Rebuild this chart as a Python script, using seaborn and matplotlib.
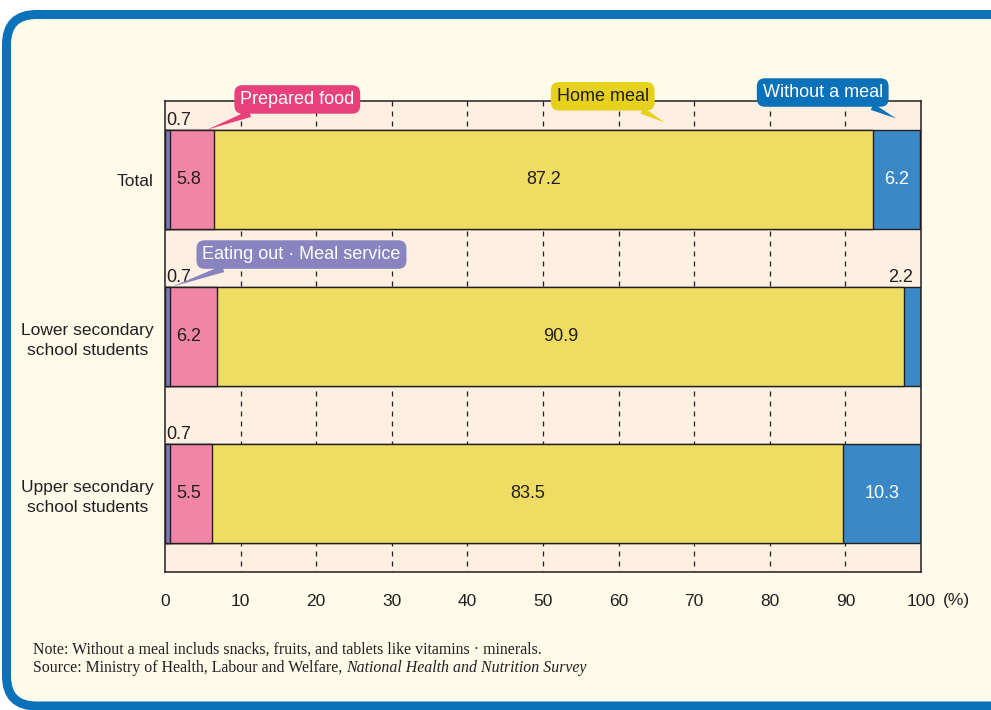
import matplotlib
matplotlib.use("Agg")
import matplotlib.pyplot as plt
import seaborn as sns
import pandas as pd
from matplotlib.patches import FancyBboxPatch

# ---- data -------------------------------------------------------------
groups = ["Total", "Lower secondary\nschool students", "Upper secondary\nschool students"]
eating_out = [0.7, 0.7, 0.7]
prepared = [5.8, 6.2, 5.5]
home_meal = [87.2, 90.9, 83.5]
without_meal = [6.2, 2.2, 10.3]
x_ticks = [0, 10, 20, 30, 40, 50, 60, 70, 80, 90, 100]

series_names = ["Eating out · Meal service", "Prepared food", "Home meal", "Without a meal"]

# ---- styling ----------------------------------------------------------
bar_colors = ["#7b79b8", "#f185a6", "#eedd62", "#3b88c7"]
callout_colors = ["#8784c0", "#e8407b", "#e6d21e", "#0b72ba"]
callout_text_colors = ["white", "white", "#231f20", "white"]
INK = "#231f20"
PANEL = "#fffbea"
PLOT_BG = "#fdf0e2"
FRAME = "#0b72ba"
LABEL_SIZE = 12.5
VALUE_SIZE = 13
CALLOUT_SIZE = 13

sns.set_theme(style="white")
plt.rcParams["font.family"] = ["Liberation Sans", "DejaVu Sans"]
plt.rcParams["text.color"] = INK

W, H = 991, 710
fig = plt.figure(figsize=(W / 100, H / 100), dpi=100, facecolor="white")

# background layer in pixel units: rounded blue frame + notes
bg = fig.add_axes([0, 0, 1, 1], zorder=0)
bg.set_xlim(0, W)
bg.set_ylim(H, 0)
bg.axis("off")
bg.add_patch(FancyBboxPatch((6.5, 14.5), 1100, 691.5,
                            boxstyle="round,pad=0,rounding_size=30",
                            fc=PANEL, ec=FRAME, lw=6.5))

ax = fig.add_axes([165 / W, 1 - 572 / H, 756 / W, 471 / H], zorder=1)
ax.set_facecolor(PLOT_BG)

df = pd.DataFrame({
    "group": groups,
    "eating_out": eating_out,
    "prepared": prepared,
    "home_meal": home_meal,
    "without_meal": without_meal,
})
cols = ["eating_out", "prepared", "home_meal", "without_meal"]
cum = df[cols].cumsum(axis=1)
start = cum - df[cols]

# dashed guides behind the bars
ax.vlines(x_ticks[1:-1], -0.5, 2.5, colors=INK, linestyles=(0, (4, 4)), lw=0.9, zorder=0.5)

# stacked bars: draw cumulative totals from the outermost segment inward
for k in reversed(range(len(cols))):
    sns.barplot(data=cum.assign(group=df["group"]), x=cols[k], y="group", orient="h",
                color=bar_colors[k], saturation=1, width=0.63, errorbar=None,
                edgecolor=INK, linewidth=1.0, ax=ax)

ax.set_xlim(0, 100)
ax.set_ylim(2.5, -0.5)
ax.set_xlabel("")
ax.set_ylabel("")
ax.set_xticks(x_ticks, labels=[str(t) for t in x_ticks])
ax.set_yticks(range(len(groups)), labels=groups, multialignment="center", linespacing=1.45)
ax.tick_params(axis="x", length=0, pad=16, labelsize=LABEL_SIZE, labelcolor=INK)
ax.tick_params(axis="y", length=0, pad=8, labelsize=LABEL_SIZE, labelcolor=INK)
for sp in ax.spines.values():
    sp.set_visible(True)
    sp.set_color(INK)
    sp.set_linewidth(1.1)

half = 0.315
for i in range(len(groups)):
    # eating out: tiny segment, value written above the bar
    ax.text(0.1, i - half - 0.03, f"{eating_out[i]}", ha="left", va="baseline", fontsize=VALUE_SIZE)
    # prepared food
    ax.text(start.loc[i, "prepared"] + 0.75, i, f"{prepared[i]}", ha="left", va="center",
            fontsize=VALUE_SIZE)
    # home meal
    ax.text(start.loc[i, "home_meal"] + home_meal[i] / 2, i, f"{home_meal[i]}",
            ha="center", va="center", fontsize=VALUE_SIZE)
    # without a meal
    if without_meal[i] >= 5:
        ax.text(start.loc[i, "without_meal"] + without_meal[i] / 2, i, f"{without_meal[i]}",
                ha="center", va="center", fontsize=VALUE_SIZE, color="white")
    else:
        ax.text(98.9, i - half - 0.03, f"{without_meal[i]}", ha="right", va="baseline",
                fontsize=VALUE_SIZE)

# speech-bubble labels for the series
callouts = [
    # (series index, text position, pointer tip, relpos)
    (1, (17.5, -0.51), (5.6, -0.318), (0.32, 0.25)),
    (2, (57.9, -0.53), (66.1, -0.363), (0.72, 0.25)),
    (3, (87.0, -0.554), (96.7, -0.389), (0.74, 0.25)),
    (0, (18.05, 0.478), (0.93, 0.683), (0.25, 0.25)),
]
for k, txt_xy, tip_xy, rel in callouts:
    ax.annotate(series_names[k], xy=tip_xy, xytext=txt_xy, xycoords="data", textcoords="data",
                ha="center", va="center", fontsize=CALLOUT_SIZE, color=callout_text_colors[k],
                annotation_clip=False, zorder=6,
                bbox=dict(boxstyle="round,pad=0.32,rounding_size=0.45",
                          fc=callout_colors[k], ec="none"),
                arrowprops=dict(arrowstyle="wedge,tail_width=0.38,shrink_factor=0.5",
                                fc=callout_colors[k], ec="none", relpos=rel,
                                shrinkA=0, shrinkB=0))

# unit next to the last tick label
bg.text(956, 600, "(%)", ha="center", va="center", fontsize=LABEL_SIZE, color=INK)

# notes
note_font = dict(family=["Liberation Serif", "DejaVu Serif"], fontsize=11.4, color=INK)
bg.text(33, 650, "Note: Without a meal includs snacks, fruits, and tablets like vitamins · minerals.",
        ha="left", va="center", **note_font)
src = bg.text(33, 668, "Source: Ministry of Health, Labour and Welfare, ",
              ha="left", va="center", **note_font)
bg.annotate("National Health and Nutrition Survey", xy=(1, 0.5), xycoords=src,
            ha="left", va="center", fontstyle="italic", **note_font)

fig.savefig("out.png", dpi=100, facecolor="white")
